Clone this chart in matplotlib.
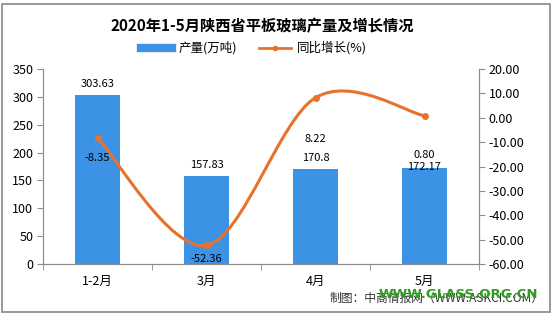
import numpy as np
import matplotlib
matplotlib.use('Agg')
import matplotlib.pyplot as plt
from matplotlib.path import Path
from matplotlib.patches import PathPatch, Rectangle
from matplotlib.lines import Line2D

plt.rcParams['font.family'] = ['Noto Sans CJK SC', 'DejaVu Sans']

# data
months = ['1-2月', '3月', '4月', '5月']
output = [303.63, 157.83, 170.8, 172.17]      # 产量(万吨)
growth = [-8.35, -52.36, 8.22, 0.80]          # 同比增长(%)

BAR_COLOR = '#3C93E6'
LINE_COLOR = '#E8712C'
AXIS_COLOR = '#8C8C8C'


def smooth_path(xs, ys):
    """Catmull-Rom style cubic Bezier path through the points."""
    pts = np.column_stack([xs, ys]).astype(float)
    ext = np.vstack([pts[0], pts, pts[-1]])
    verts = [tuple(pts[0])]
    codes = [Path.MOVETO]
    for i in range(len(pts) - 1):
        p0, p1, p2, p3 = ext[i], ext[i + 1], ext[i + 2], ext[i + 3]
        c1 = p1 + (p2 - p0) / 6
        c2 = p2 - (p3 - p1) / 6
        verts += [tuple(c1), tuple(c2), tuple(p2)]
        codes += [Path.CURVE4] * 3
    return Path(verts, codes)


fig = plt.figure(figsize=(5.52, 3.17), dpi=100)
ax = fig.add_axes([43 / 552, 1 - 264 / 317, 436 / 552, 195 / 317])
ax2 = ax.twinx()

x = np.arange(len(months))
ax.bar(x, output, width=0.41, color=BAR_COLOR, zorder=2)
ax.set_xlim(-0.5, len(months) - 0.5)
ax.set_ylim(0, 350)
ax.set_yticks(range(0, 351, 50))
ax.set_xticks(x)
ax.set_xticklabels(months, fontsize=9)
ax.set_xticks(np.arange(-0.5, len(months), 1), minor=True)
ax.tick_params(axis='x', which='major', length=0, pad=8)
ax.tick_params(axis='x', which='minor', length=4, color=AXIS_COLOR)
ax.tick_params(axis='y', length=4, color=AXIS_COLOR, labelsize=9, pad=3)

bar_offsets = [8, 8, 8, 1]
for xi, v, off in zip(x, output, bar_offsets):
    ax.annotate(f'{v:.2f}'.rstrip('0').rstrip('.') if v != 303.63 else '303.63',
                (xi, v), xytext=(0, off), textcoords='offset points',
                ha='center', va='center', fontsize=8)

ax2.set_ylim(-60, 20)
ax2.set_yticks(range(-60, 21, 10))
ax2.set_yticklabels([f'{t:.2f}' for t in range(-60, 21, 10)])
ax2.tick_params(axis='y', length=4, color=AXIS_COLOR, labelsize=9, pad=3)

ax2.add_patch(PathPatch(smooth_path(x, growth), facecolor='none',
                        edgecolor=LINE_COLOR, lw=2.2, zorder=3))
ax2.plot(x, growth, 'o', color=LINE_COLOR, ms=4, zorder=4)

line_offsets = [-14, -10, -30, -28]
for xi, v, off in zip(x, growth, line_offsets):
    ax2.annotate(f'{v:.2f}', (xi, v), xytext=(0, off), textcoords='offset points',
                 ha='center', va='center', fontsize=8)

for a in (ax, ax2):
    a.spines['top'].set_visible(False)
    for s in ('left', 'right', 'bottom'):
        a.spines[s].set_color(AXIS_COLOR)
        a.spines[s].set_linewidth(0.8)
ax.set_zorder(ax2.get_zorder() - 1)
ax2.patch.set_visible(False)

fig.text(0.475, 0.918, '2020年1-5月陕西省平板玻璃产量及增长情况',
         ha='center', va='center', fontsize=11, fontweight='bold')

handles = [Line2D([0], [0], color=BAR_COLOR, lw=6),
           Line2D([0], [0], color=LINE_COLOR, lw=2, marker='o', ms=3)]
fig.legend(handles, ['产量(万吨)', '同比增长(%)'], loc='center',
           bbox_to_anchor=(0.46, 0.848), ncol=2, frameon=False, fontsize=9,
           handlelength=2.5, columnspacing=1.8, handletextpad=0.5)

fig.text(0.985, 0.058, '制图：中商情报网（WWW.ASKCI.COM）', ha='right',
         va='center', fontsize=8.5, color='#333333')
fig.text(0.83, 0.072, 'WWW.GLASS.ORG.CN', ha='center', va='center',
         fontsize=9.5, fontweight='bold', color='#2E9E1E',
         family=['DejaVu Sans'])

fig.patches.append(Rectangle((2 / 552, 1 - 312 / 317), 548 / 552, 308 / 317,
                             transform=fig.transFigure, fill=False,
                             edgecolor='#888888', lw=1.2))

fig.savefig('out.png', dpi=100)
